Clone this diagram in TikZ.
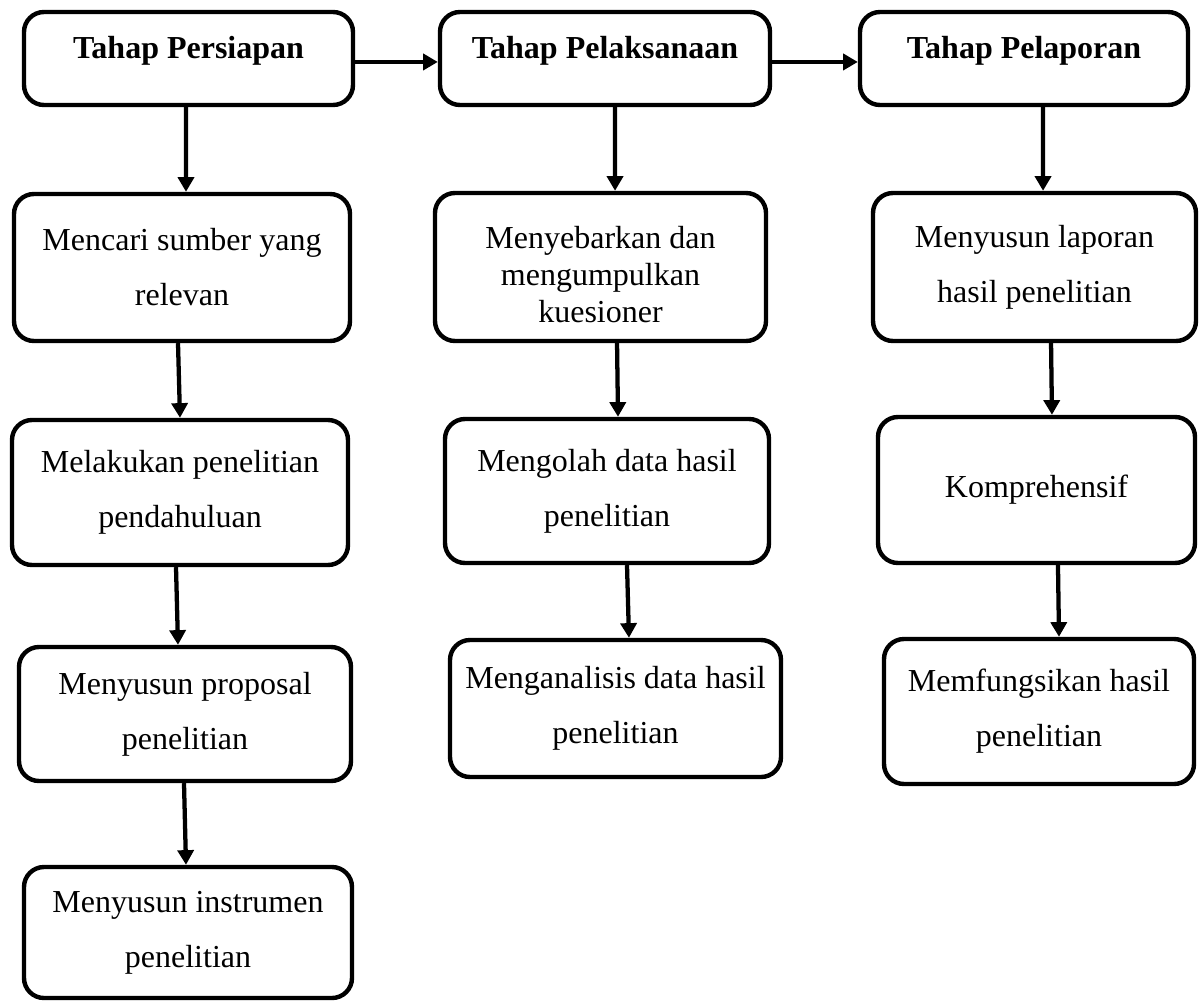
\documentclass[tikz,border=0pt]{standalone}
\usepackage{fontspec}
\setmainfont{Liberation Serif}
\usetikzlibrary{arrows.meta}
\begin{document}
\begin{tikzpicture}[x=0.75pt,y=-0.75pt,
  box/.style={draw=black, line width=3.3pt, rounded corners=15pt, fill=white, inner sep=0pt, align=center,
    font=\fontsize{24}{41.25}\selectfont},
  htext/.style={font=\fontsize{24}{28}\selectfont\bfseries, inner sep=0pt},
  btext/.style={font=\fontsize{24}{27.75}\selectfont, inner sep=0pt, align=center},
  arr/.style={line width=3.2pt, -{Triangle[width=12pt,length=11pt]}}]
\useasboundingbox (0,0) rectangle (1201,1002);
% headers
\node[box, minimum width=246.75pt, minimum height=69.75pt] (h1) at (188.5,58.5) {};
\node[box, minimum width=247.5pt, minimum height=69.75pt] (h2) at (605,58.5) {};
\node[box, minimum width=246pt, minimum height=69.75pt] (h3) at (1024,58.5) {};
\node[htext, anchor=base] (h1t) at (h1.center) {Tahap Persiapan};
\node[htext, anchor=base] (h2t) at (h2.center) {Tahap Pelaksanaan};
\node[htext, anchor=base] (h3t) at (h3.center) {Tahap Pelaporan};
% column 1
\node[box, minimum width=252pt, minimum height=110.25pt] (c11) at (182,267.5) {Mencari sumber yang\\relevan};
\node[box, minimum width=252pt, minimum height=108.75pt] (c12) at (180,492.5) {Melakukan penelitian\\pendahuluan};
\node[box, minimum width=249pt, minimum height=100.5pt] (c13) at (185,714) {Menyusun proposal\\penelitian};
\node[box, minimum width=246pt, minimum height=98.25pt] (c14) at (188,932.5) {Menyusun instrumen\\penelitian};
% column 2
\node[box, minimum width=248.25pt, minimum height=111pt] (c21) at (600.5,267) {};
\node[btext] (c21t) at ([yshift=-6pt]c21.center) {Menyebarkan dan\\mengumpulkan\\kuesioner};
\node[box, minimum width=243pt, minimum height=108pt] (c22) at (607,491) {Mengolah data hasil\\penelitian};
\node[box, minimum width=248.25pt, minimum height=102.75pt] (c23) at (615.5,708.5) {Menganalisis data hasil\\penelitian};
% column 3
\node[box, minimum width=242.25pt, minimum height=111pt] (c31) at (1034.5,267) {Menyusun laporan\\hasil penelitian};
\node[box, minimum width=237.75pt, minimum height=109.5pt] (c32) at (1036.5,490) {Komprehensif};
\node[box, minimum width=232.5pt, minimum height=108.75pt] (c33) at (1039,711.5) {Memfungsikan hasil\\penelitian};
% horizontal arrows
\draw[arr] ([yshift=-2.6pt]h1.east) -- ([yshift=-2.6pt]h2.west);
\draw[arr] ([yshift=-2.6pt]h2.east) -- ([yshift=-2.6pt]h3.west);
% column 1 arrows
\draw[arr] ([xshift=-1.9pt]h1.south) -- ([xshift=3pt]c11.north);
\draw[arr] ([xshift=-3pt]c11.south) -- ([xshift=0pt]c12.north);
\draw[arr] ([xshift=-3pt]c12.south) -- ([xshift=-5.25pt]c13.north);
\draw[arr] ([xshift=-0.75pt]c13.south) -- ([xshift=-1.5pt]c14.north);
% column 2 arrows
\draw[arr] ([xshift=7.5pt]h2.south) -- ([xshift=10.9pt]c21.north);
\draw[arr] ([xshift=12.4pt]c21.south) -- ([xshift=8.25pt]c22.north);
\draw[arr] ([xshift=15pt]c22.south) -- ([xshift=10.1pt]c23.north);
% column 3 arrows
\draw[arr] ([xshift=14.25pt]h3.south) -- ([xshift=6.4pt]c31.north);
\draw[arr] ([xshift=12.4pt]c31.south) -- ([xshift=11.6pt]c32.north);
\draw[arr] ([xshift=16.1pt]c32.south) -- ([xshift=15pt]c33.north);
\end{tikzpicture}
\end{document}
